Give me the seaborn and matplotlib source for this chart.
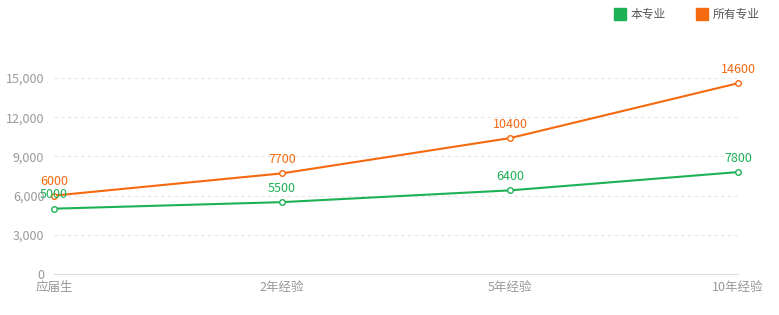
import matplotlib
matplotlib.use("Agg")
import matplotlib.pyplot as plt
import seaborn as sns
import pandas as pd
from matplotlib.patches import Rectangle

categories = ["应届生", "2年经验", "5年经验", "10年经验"]
major_values = [5000, 5500, 6400, 7800]
all_values = [6000, 7700, 10400, 14600]
series_names = ["本专业", "所有专业"]
yticks = [0, 3000, 6000, 9000, 12000, 15000]

colors = {"本专业": "#1db155", "所有专业": "#f5690f"}

sns.set_theme(style="white")
plt.rcParams['font.family'] = ['Noto Sans CJK SC', 'DejaVu Sans']

df = pd.DataFrame({
    "cat": list(range(len(categories))) * 2,
    "value": major_values + all_values,
    "series": [series_names[0]] * 4 + [series_names[1]] * 4,
})

fig = plt.figure(figsize=(7.79, 3.15), dpi=100)
ax = fig.add_axes([54/779, 1-274/315, (738-54)/779, (274-78)/315])

for name, vals in zip(series_names, [major_values, all_values]):
    sub = df[df.series == name]
    sns.lineplot(data=sub, x="cat", y="value", ax=ax, color=colors[name],
                 linewidth=1.5, marker="o", markersize=4,
                 markerfacecolor="white", markeredgecolor=colors[name],
                 markeredgewidth=1.0, clip_on=False, zorder=3)
    for i, v in enumerate(vals):
        ax.text(i, v + 550, str(v), color=colors[name], ha="center", va="bottom",
                fontsize=9, clip_on=False, zorder=4)

ax.set_xlim(0, 3)
ax.set_ylim(0, 15000)
ax.set_xticks(range(len(categories)))
ax.set_xticklabels(categories)
ax.set_yticks(yticks)
ax.set_yticklabels([f"{t:,}" for t in yticks])
ax.tick_params(axis="both", colors="#999999", labelsize=9)
ax.tick_params(axis="x", length=4, width=0.8, color="#e0e0e0", pad=1)
ax.tick_params(axis="y", length=0, pad=7)
for lbl in ax.get_xticklabels() + ax.get_yticklabels():
    lbl.set_color("#999999")
for t in yticks[1:]:
    ax.axhline(t, color="#e6e6e6", linestyle=(0, (3, 3)), linewidth=0.8, zorder=0)
for s in ["top", "right", "left"]:
    ax.spines[s].set_visible(False)
ax.spines["bottom"].set_color("#e0e0e0")
ax.spines["bottom"].set_linewidth(0.8)
ax.set_xlabel("")
ax.set_ylabel("")
if ax.get_legend():
    ax.get_legend().remove()

# legend
for name, xpx in zip(series_names, [614, 696]):
    fig.patches.append(Rectangle((xpx/779, 1-20/315), 12/779, 12/315,
                                 transform=fig.transFigure, color=colors[name]))
    fig.text((xpx + 17)/779, 1-14/315, name, color="#555555", fontsize=8.5,
             va="center", ha="left")

fig.savefig("out.png", dpi=100)
